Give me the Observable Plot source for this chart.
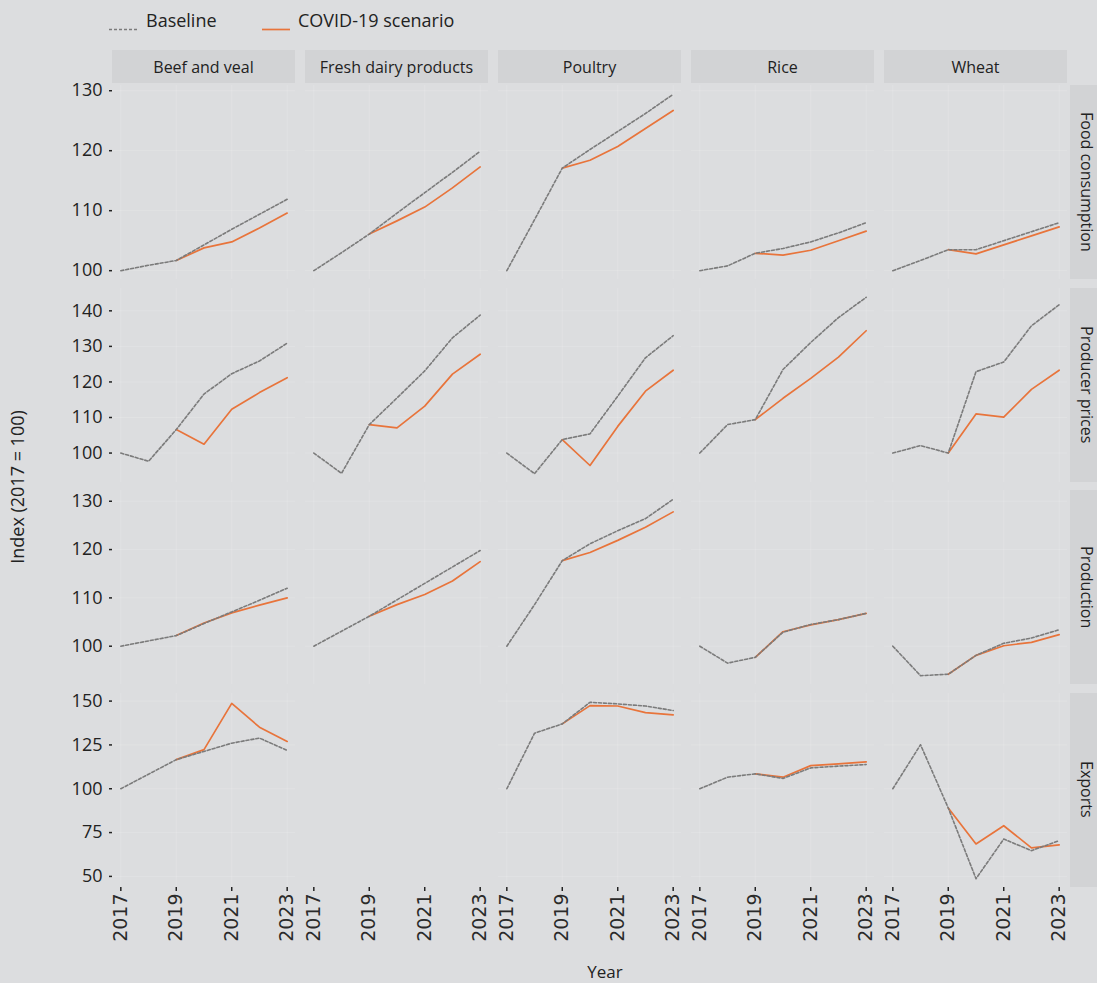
<!DOCTYPE html>
<html><head><meta charset="utf-8">
<script src="https://cdn.jsdelivr.net/npm/d3@7"></script>
<script src="https://cdn.jsdelivr.net/npm/@observablehq/plot@0.6"></script>
<style>
html,body{margin:0;padding:0;background:#dcdddf;}
#chart{position:relative;width:1097px;height:983px;overflow:hidden;background:#dcdddf;font-family:"Open Sans",sans-serif;color:#222;}
.strip{position:absolute;background:#d2d3d5;display:flex;align-items:center;justify-content:center;font-size:15px;color:#222;white-space:nowrap;}
.rstrip{writing-mode:vertical-rl;}
.row{position:absolute;left:0;}
.leg{position:absolute;font-size:18px;color:#222;}
</style></head><body><div id="chart"></div>
<script>
const years = [2017, 2018, 2019, 2020, 2021, 2022, 2023];
const xTicks = [2017, 2019, 2021, 2023];
const commodities = ["Beef and veal", "Fresh dairy products", "Poultry", "Rice", "Wheat"];
const indicators = ["Food consumption", "Producer prices", "Production", "Exports"];
const yTicks = [[100, 110, 120, 130], [100, 110, 120, 130, 140], [100, 110, 120, 130], [50, 75, 100, 125, 150]];
const scenarios = ["Baseline", "COVID-19 scenario"];

// rows: Beef and veal, Fresh dairy products, Poultry, Rice, Wheat ; columns: years
const foodBaseline = [
  [100, 100.9, 101.7, 104.3, 106.9, 109.4, 111.9],
  [100, 103.0, 106.1, 109.6, 113.0, 116.4, 119.9],
  [100, 108.5, 117.1, 120.2, 123.2, 126.2, 129.4],
  [100, 100.8, 102.9, 103.7, 104.8, 106.3, 108.0],
  [100, 101.7, 103.5, 103.5, 105.0, 106.5, 108.0]
];
const foodCovid = [
  [null, null, 101.7, 103.8, 104.8, 107.1, 109.6],
  [null, null, 106.1, 108.3, 110.6, 113.8, 117.3],
  [null, null, 117.1, 118.4, 120.7, 123.7, 126.7],
  [null, null, 102.9, 102.6, 103.4, 105.0, 106.6],
  [null, null, 103.5, 102.8, 104.3, 105.8, 107.3]
];
const pricesBaseline = [
  [100, 97.7, 106.6, 116.6, 122.3, 125.9, 130.9],
  [100, 94.3, 108.0, 115.5, 123.1, 132.4, 138.8],
  [100, 94.2, 103.8, 105.4, 116.0, 126.8, 133.0],
  [100, 108.0, 109.4, 123.5, 131.1, 138.1, 143.8],
  [100, 102.1, 100.0, 122.9, 125.6, 135.8, 141.7]
];
const pricesCovid = [
  [null, null, 106.6, 102.5, 112.3, 117.0, 121.2],
  [null, null, 108.0, 107.1, 113.2, 122.2, 127.8],
  [null, null, 103.8, 96.5, 107.5, 117.4, 123.3],
  [null, null, 109.4, 115.4, 121.0, 127.0, 134.4],
  [null, null, 100.0, 111.0, 110.1, 117.9, 123.3]
];
const productionBaseline = [
  [100, 101.1, 102.2, 104.7, 107.1, 109.5, 112.0],
  [100, 103.1, 106.2, 109.6, 113.0, 116.4, 119.8],
  [100, 108.6, 117.7, 121.2, 123.9, 126.4, 130.4],
  [100, 96.5, 97.7, 102.9, 104.5, 105.5, 106.8],
  [100, 93.9, 94.2, 98.1, 100.6, 101.7, 103.4]
];
const productionCovid = [
  [null, null, 102.2, 104.8, 106.9, 108.5, 110.0],
  [null, null, 106.2, 108.6, 110.7, 113.5, 117.5],
  [null, null, 117.7, 119.4, 121.9, 124.6, 127.8],
  [null, null, 97.7, 103.0, 104.4, 105.5, 106.8],
  [null, null, 94.2, 98.1, 100.1, 100.8, 102.4]
];
const exportsBaseline = [
  [100, 108.3, 116.6, 121.3, 126.0, 128.9, 121.9],
  [],
  [100, 131.7, 137.0, 149.3, 148.4, 147.2, 144.6],
  [100, 106.6, 108.5, 105.9, 111.9, 112.9, 113.8],
  [100, 125.1, 89.0, 48.7, 71.3, 64.7, 70.4]
];
const exportsCovid = [
  [null, null, 116.6, 122.3, 148.7, 135.1, 127.0],
  [],
  [null, null, 137.0, 147.4, 147.2, 143.4, 142.1],
  [null, null, 108.5, 106.6, 113.2, 114.2, 115.3],
  [null, null, 89.0, 68.5, 78.9, 66.3, 68.0]
];

const seriesByIndicator = [
  [foodBaseline, foodCovid],
  [pricesBaseline, pricesCovid],
  [productionBaseline, productionCovid],
  [exportsBaseline, exportsCovid]
];

const ORANGE = "#e8743b";
const GREY = "#7b7b7b";
const DASH = "3,2";
const FONT = "'Open Sans', sans-serif";

function tidy(arrs, scenario) {
  const out = [];
  arrs.forEach((vals, ci) => vals.forEach((v, yi) => {
    if (v != null) out.push({commodity: commodities[ci], year: years[yi], value: v, scenario});
  }));
  return out;
}

const chart = document.getElementById("chart");
const panelTops = [85, 287.5, 490, 692.5];
const panelH = 194;
const W = 1097, ML = 111, MR = 29;

let fxScale = null;
indicators.forEach((ind, i) => {
  const base = tidy(seriesByIndicator[i][0], scenarios[0]);
  const covid = tidy(seriesByIndicator[i][1], scenarios[1]);
  const all = base.concat(covid);
  const [lo, hi] = d3.extent(all, d => d.value);
  const pad = (hi - lo) * 0.05;
  const isBottom = i === indicators.length - 1;
  const MB = isBottom ? 75 : 0;
  const plot = Plot.plot({
    width: W,
    height: panelH + MB,
    marginLeft: ML, marginRight: MR, marginTop: 0, marginBottom: MB,
    style: {background: "transparent", overflow: "visible", fontFamily: FONT, color: "#222"},
    fx: {domain: commodities, paddingInner: 10 / 193.5, paddingOuter: 0, axis: null, label: null},
    x: {domain: [2016.7, 2023.3], axis: null, label: null},
    y: {domain: [lo - pad, hi + pad], axis: null, label: null},
    marks: [
      Plot.gridY(yTicks[i], {stroke: "#ffffff", strokeOpacity: 0.15}),
      Plot.gridX(xTicks, {stroke: "#ffffff", strokeOpacity: 0.15}),
      Plot.axisY(yTicks[i], {anchor: "left", facetAnchor: "left", tickSize: 3, tickPadding: 7, fontSize: 18, strokeWidth: 1.5, label: null, fill: "#222"}),
      isBottom ? Plot.axisX(xTicks, {anchor: "bottom", facetAnchor: "bottom", tickRotate: -90, tickSize: 4, tickPadding: 2, tickFormat: "d", fontSize: 19, fontFamily: "'DejaVu Sans', sans-serif", strokeWidth: 1.5, label: null, fill: "#2a2a2a"}) : null,
      Plot.lineY(covid, {x: "year", y: "value", fx: "commodity", stroke: ORANGE, strokeWidth: 1.7}),
      Plot.lineY(base, {x: "year", y: "value", fx: "commodity", stroke: GREY, strokeWidth: 1.6, strokeDasharray: DASH})
    ]
  });
  const wrap = document.createElement("div");
  wrap.className = "row";
  wrap.style.top = panelTops[i] + "px";
  wrap.appendChild(plot);
  chart.appendChild(wrap);
  if (!fxScale) fxScale = plot.scale("fx");

  // right strip
  const rs = document.createElement("div");
  rs.className = "strip rstrip";
  rs.style.left = (W - MR + 2) + "px";
  rs.style.top = panelTops[i] + "px";
  rs.style.width = "33px";
  rs.style.height = panelH + "px";
  rs.style.fontSize = "16px";
  rs.textContent = ind;
  chart.appendChild(rs);
});

// top strips
commodities.forEach(c => {
  const s = document.createElement("div");
  s.className = "strip";
  s.style.left = fxScale.apply(c) + "px";
  s.style.width = fxScale.bandwidth + "px";
  s.style.top = "50px";
  s.style.height = "33px";
  s.style.fontSize = "16px";
  s.textContent = c;
  chart.appendChild(s);
});

// legend
const legend = document.createElement("div");
legend.innerHTML = `
<svg style="position:absolute;left:0;top:0" width="400" height="45">
  <line x1="109" x2="137" y1="29.5" y2="29.5" stroke="${GREY}" stroke-width="1.6" stroke-dasharray="${DASH}"/>
  <line x1="262" x2="290" y1="29.5" y2="29.5" stroke="${ORANGE}" stroke-width="1.7"/>
</svg>
<div class="leg" style="left:146px;top:8px">${scenarios[0]}</div>
<div class="leg" style="left:298px;top:8px">${scenarios[1]}</div>`;
chart.appendChild(legend);

// axis titles
const yl = document.createElement("div");
yl.textContent = "Index (2017 = 100)";
yl.style.cssText = "position:absolute;left:18px;top:487px;transform:translate(-50%,-50%) rotate(-90deg);font-size:18px;white-space:nowrap;color:#222;line-height:1.2;";
chart.appendChild(yl);
const xl = document.createElement("div");
xl.textContent = "Year";
xl.style.cssText = "position:absolute;left:605px;top:972px;transform:translate(-50%,-50%);font-size:17px;color:#222;line-height:1.2;";
chart.appendChild(xl);
</script>
</body></html>
